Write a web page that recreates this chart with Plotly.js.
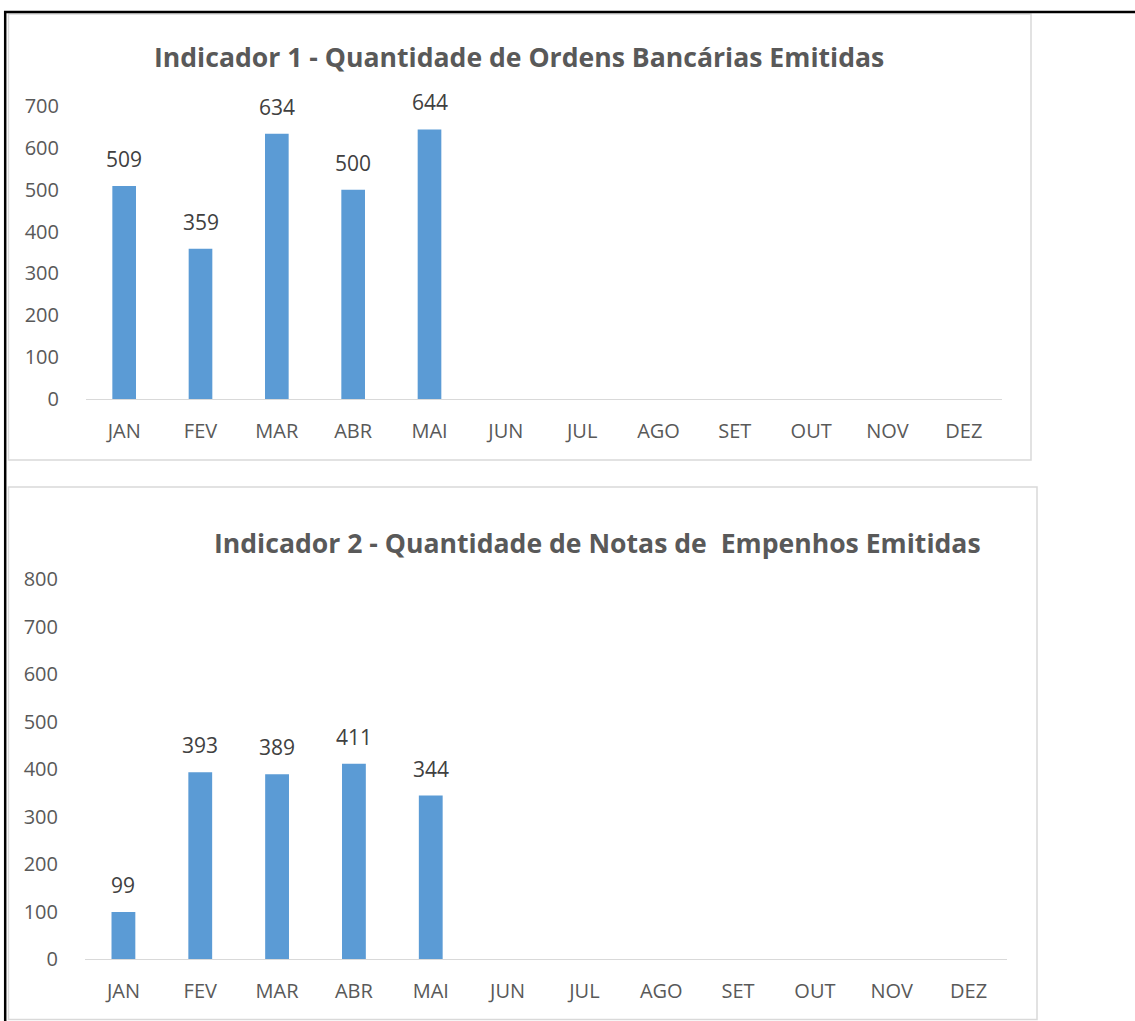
<!DOCTYPE html>
<html><head><meta charset="utf-8">
<script src="https://cdn.plot.ly/plotly-3.0.1.min.js"></script>
<style>html,body{margin:0;padding:0;background:#fff}#c{width:1135px;height:1021px}</style>
</head><body><div id="c"></div>
<script>
const months = ["JAN","FEV","MAR","ABR","MAI","JUN","JUL","AGO","SET","OUT","NOV","DEZ"];
const ordensBancarias = [509,359,634,500,644,null,null,null,null,null,null,null];
const notasEmpenho = [99,393,389,411,344,null,null,null,null,null,null,null];
const title1 = "Indicador 1 - Quantidade de Ordens Bancárias Emitidas";
const title2 = "Indicador 2 - Quantidade de Notas de  Empenhos Emitidas";
const yTicks1 = [0,100,200,300,400,500,600,700];
const yTicks2 = [0,100,200,300,400,500,600,700,800];

const W = 1135, H = 1021;
const px = x => x / W, py = y => 1 - y / H;
const FONT = "Open Sans, sans-serif";
const barColor = "#5B9BD5";
const tickFont = {family: FONT, size: 20, color: "#595959"};

const traces = [
  {type:"bar", x: months, y: ordensBancarias, xaxis:"x", yaxis:"y", marker:{color:barColor}, width:0.31, hoverinfo:"none"},
  {type:"bar", x: months, y: notasEmpenho, xaxis:"x2", yaxis:"y2", marker:{color:barColor}, width:0.31, hoverinfo:"none"}
];

const annotations = [];
function labels(vals, xa, ya) {
  vals.forEach((v, i) => {
    if (v === null) return;
    annotations.push({x: months[i], y: v, xref: xa, yref: ya, text: String(v), showarrow: false,
      yanchor: "middle", yshift: 27, font: {family: FONT, size: 21, color: "#404040"}});
  });
}
labels(ordensBancarias, "x", "y");
labels(notasEmpenho, "x2", "y2");
annotations.push({xref:"paper", yref:"paper", x: px(519), y: py(57), text: "<b>" + title1 + "</b>", showarrow:false,
  xanchor:"center", yanchor:"middle", font:{family: FONT, size: 26.6, color:"#595959"}});
annotations.push({xref:"paper", yref:"paper", x: px(597), y: py(543), text: "<b>" + title2.replace(/  /g, " &nbsp;") + "</b>", showarrow:false,
  xanchor:"center", yanchor:"middle", font:{family: FONT, size: 26.6, color:"#595959"}});

const gray = "#D9D9D9";
const shapes = [
  {type:"rect", xref:"paper", yref:"paper", x0: px(8.5), x1: px(1031), y0: py(14), y1: py(460), line:{color:gray, width:1.5}},
  {type:"rect", xref:"paper", yref:"paper", x0: px(8.5), x1: px(1037), y0: py(487), y1: py(1019.5), line:{color:gray, width:1.5}},
  {type:"line", xref:"paper", yref:"paper", x0: px(4), x1: px(1135), y0: py(12), y1: py(12), line:{color:"#000", width:2.5}},
  {type:"line", xref:"paper", yref:"paper", x0: px(5.2), x1: px(5.2), y0: py(11), y1: py(1021), line:{color:"#000", width:2.5}}
];

const xCommon = {type:"category", range:[-0.5, 11.5], showline:true, linecolor:gray, linewidth:1.3,
  showgrid:false, zeroline:false, ticks:"outside", ticklen:14, tickcolor:"rgba(0,0,0,0)", tickfont: tickFont, fixedrange:true};
const yCommon = {showline:false, showgrid:false, zeroline:false, ticks:"outside", ticklen:22, tickcolor:"rgba(0,0,0,0)",
  tickfont: tickFont, tickmode:"array", fixedrange:true};

const layout = {
  width: W, height: H, margin:{l:0, r:0, t:0, b:0}, paper_bgcolor:"#fff", plot_bgcolor:"rgba(0,0,0,0)",
  showlegend:false, bargap:0.69,
  xaxis: Object.assign({}, xCommon, {domain:[px(86), px(1002)], anchor:"y"}),
  yaxis: Object.assign({}, yCommon, {domain:[py(399), py(106)], range:[0,700], tickvals: yTicks1, anchor:"x"}),
  xaxis2: Object.assign({}, xCommon, {domain:[px(85), px(1007)], anchor:"y2"}),
  yaxis2: Object.assign({}, yCommon, {domain:[py(959), py(579)], range:[0,800], tickvals: yTicks2, anchor:"x2"}),
  annotations, shapes
};
Plotly.newPlot("c", traces, layout, {displayModeBar:false, staticPlot:true});
</script></body></html>
